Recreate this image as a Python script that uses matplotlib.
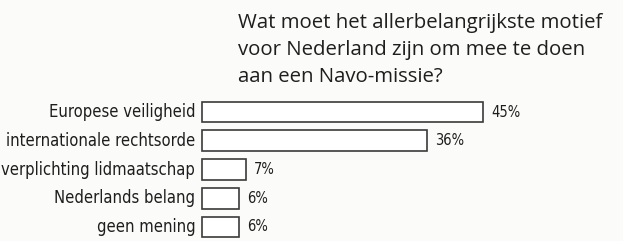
import matplotlib.pyplot as plt
from matplotlib import font_manager

# Gegevens
categorieen = ['Europese veiligheid', 'internationale rechtsorde',
               'verplichting lidmaatschap', 'Nederlands belang', 'geen mening']
percentages = [45, 36, 7, 6, 6]
labels = ['45%', '36%', '7%', '6%', '6%']
titel = ('Wat moet het allerbelangrijkste motief\n'
         'voor Nederland zijn om mee te doen\n'
         'aan een Navo-missie?')

# Smalle letter zoeken, anders gewone
smal = None
for f in font_manager.fontManager.ttflist:
    if 'Narrow' in f.name or 'Condensed' in f.name or f.stretch in ('condensed', 'semi-condensed', 'extra-condensed'):
        smal = (f.name, f.stretch)
        break
if smal is None:
    smal = ('Liberation Sans', 'normal')

fig = plt.figure(figsize=(6.23, 2.41), dpi=100, facecolor='#fbfbf9')
ax = fig.add_axes([0, 0, 1, 1])
ax.set_facecolor('#fbfbf9')

rijen = list(range(len(categorieen)))
ax.barh(rijen, percentages, height=0.73, color='white',
        edgecolor='#3a3a3a', linewidth=1.2)

ax.set_xlim(-32.35, 67.42)
ax.set_ylim(4.487, -3.896)
ax.axis('off')

renderer = fig.canvas.get_renderer()


def pas_aan(t, breedte):
    # lettergrootte zo kiezen dat de tekst de gewenste breedte (px) heeft
    w = t.get_window_extent(renderer).width
    t.set_fontsize(t.get_fontsize() * breedte / w)


cat_teksten = []
for i, (cat, p, lab) in enumerate(zip(categorieen, percentages, labels)):
    t = ax.text(-1.1, i, cat, ha='right', va='center', fontsize=12,
                family=smal[0], stretch=smal[1], color='#1e1e1e')
    cat_teksten.append(t)
    v = ax.text(p + 1.3, i, lab, ha='left', va='center', fontsize=11,
                family=smal[0], stretch=smal[1], color='#1e1e1e')
    if i == 0:
        pas_aan(v, 29)
        grootte_pct = v.get_fontsize()
    else:
        v.set_fontsize(grootte_pct)

pas_aan(cat_teksten[2], 193)
for t in cat_teksten:
    t.set_fontsize(cat_teksten[2].get_fontsize())

tt = ax.text(5.77, -3.43, titel, ha='left', va='top', fontsize=11,
             family='Open Sans', color='#1e1e1e', linespacing=1.45)
regel = ax.text(0, 0, titel.split('\n')[0], fontsize=11, family='Open Sans')
w = regel.get_window_extent(renderer).width
regel.remove()
tt.set_fontsize(11 * 364 / w)

fig.savefig('out.png', dpi=100, facecolor=fig.get_facecolor())
